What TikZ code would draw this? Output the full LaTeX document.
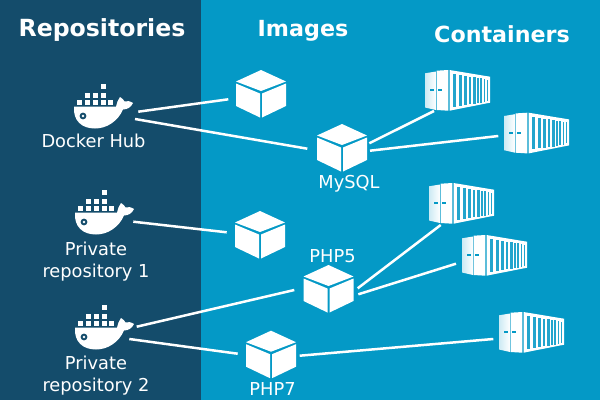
\documentclass[tikz,border=0pt]{standalone}
\usepackage{fontspec}
\setmainfont{DejaVu Sans}
\definecolor{darkside}{HTML}{144C6B}
\definecolor{lightside}{HTML}{0499C6}
\tikzset{
  x=1pt,y=-1pt,
  link/.style={draw=white,line width=2.5pt},
  heading/.style={text=white,font=\bfseries\fontsize{22.2}{24}\selectfont,inner sep=0pt},
  caption/.style={text=white,font=\fontsize{17.8}{22}\selectfont,inner sep=0pt,align=center},
  whale/.pic={
    \fill[white] (-19,-1.3) -- (23,-1.3) .. controls (23.5,-5) and (25,-8) .. (27,-11) .. controls (30,-9) and (31,-7.5) .. (31.5,-6.5) .. controls (34,-7.5) and (37,-7) .. (40,-5) .. controls (38,-0.5) and (34,1.5) .. (30,1.5) .. controls (25,13) and (14,20.5) .. (2,20.5) .. controls (-11,20.5) and (-20,13) .. (-19,-1.3) -- cycle;
    \fill[white] (7.7,-24) rectangle (12.7,-19);
    \fill[white] (-8,-15.3) rectangle (-3,-10);
    \fill[white] (-0.3,-15.3) rectangle (4.7,-10);
    \fill[white] (7.7,-15.3) rectangle (12.7,-10);
    \fill[white] (-16.3,-7.7) rectangle (-11,-3.3);
    \fill[white] (-8,-7.7) rectangle (-3,-3.3);
    \fill[white] (-0.3,-7.7) rectangle (4.7,-3.3);
    \fill[white] (7.7,-7.7) rectangle (12.7,-3.3);
    \fill[white] (15,-7.7) rectangle (20,-3.3);
    \fill[darkside] (-10,8) circle (3.4);
    \fill[white] (-10,8) circle (1.3);
  },
  cube/.pic={
    \fill[white] (0,-22) -- (25,-10.5) -- (0,-1) -- (-25,-10.5) -- cycle;
    \fill[white] (-25,-8.5) -- (-1,1.5) -- (-1,25.5) -- (-25,14) -- cycle;
    \fill[white] (25,-8.5) -- (1,1.5) -- (1,25.5) -- (25,14) -- cycle;
  },
  crate/.pic={
    \shade[left color=white!80!lightside,right color=white] (0,3.3) -- (11,1.5) -- (11,40) -- (0,37.5) -- cycle;
    \fill[white] (11.7,0.7) -- (23.3,0) -- (23.3,40.7) -- (11.7,40) -- cycle;
    \fill[white] (24.5,0) -- (65,6.7) -- (65,32.7) -- (24.5,40.7) -- cycle;
    \foreach \a/\b/\t/\u in {27.7/31/4/36.7,33.7/36.7/5/35.7,39.3/42/6/35,44.3/46.3/6.6/34.4,48.3/50.7/7.2/33.8,51.7/53.7/7.8/33.2,55.3/57.3/8.4/32.6,58.7/60.3/9/31.8,61.7/63/9.6/30.7}{
      \fill[lightside!88!white] (\a,\t) rectangle (\b,\u);
    }
    \fill[lightside] (5,19.4) rectangle (9,20.8);
    \fill[lightside] (13.3,19.4) rectangle (17.3,20.8);
  }
}
\begin{document}
\begin{tikzpicture}
\useasboundingbox (0,0) rectangle (600,400);
\fill[lightside] (0,0) rectangle (600,400);
\fill[darkside] (0,0) rectangle (201,400);
\node[heading,font=\bfseries\fontsize{23.6}{24}\selectfont] (t1) at (102,30) {Repositories};
\node[heading] (t2) at (303,31) {Images};
\node[heading] (t3) at (502,34) {Containers};
\pic at (93,108) {whale};
\pic at (94,214) {whale};
\pic at (94,329) {whale};
\node[caption] (hub) at (93.5,141) {Docker Hub};
\node[caption] (p1) at (96,262) {Private\\repository 1};
\node[caption] (p2) at (96,375.5) {Private\\repository 2};
\pic at (261,92) {cube};
\pic at (342,146) {cube};
\pic at (260,233) {cube};
\pic at (328.5,287) {cube};
\pic at (271,352.7) {cube};
\node[caption] (mysql) at (349,183.5) {MySQL};
\node[caption] (php5) at (332.5,256) {PHP5};
\node[caption] (php7) at (272.5,389) {PHP7};
\pic at (425,70) {crate};
\pic at (504,112.7) {crate};
\pic at (429,183) {crate};
\pic at (462,235) {crate};
\pic at (499,312) {crate};
\coordinate (hubA) at (138.3,111.7);
\coordinate (hubB) at (135,119);
\coordinate (priA) at (133.3,221.7);
\coordinate (prbA) at (136.7,326.7);
\coordinate (prbB) at (129.3,339);
\coordinate (cubeAin) at (228.3,99.3);
\coordinate (mysqlIn) at (307.3,148.7);
\coordinate (mysqlA) at (369.3,143.3);
\coordinate (mysqlB) at (370,150.7);
\coordinate (cubeBin) at (226.7,232.3);
\coordinate (phpfiveIn) at (294.3,290);
\coordinate (phpfiveA) at (357.7,288.3);
\coordinate (phpfiveB) at (358.3,294.3);
\coordinate (phpsevenIn) at (237.7,353.7);
\coordinate (phpsevenA) at (299.7,355.7);
\coordinate (crA) at (434,111);
\coordinate (crB) at (498.3,136);
\coordinate (crC) at (440.7,225);
\coordinate (crD) at (456,263.7);
\coordinate (crE) at (493.3,339);
\draw[link] (hubA) -- (cubeAin);
\draw[link] (hubB) -- (mysqlIn);
\draw[link] (mysqlA) -- (crA);
\draw[link] (mysqlB) -- (crB);
\draw[link] (priA) -- (cubeBin);
\draw[link] (prbA) -- (phpfiveIn);
\draw[link] (prbB) -- (phpsevenIn);
\draw[link] (phpfiveA) -- (crC);
\draw[link] (phpfiveB) -- (crD);
\draw[link] (phpsevenA) -- (crE);
\end{tikzpicture}
\end{document}
